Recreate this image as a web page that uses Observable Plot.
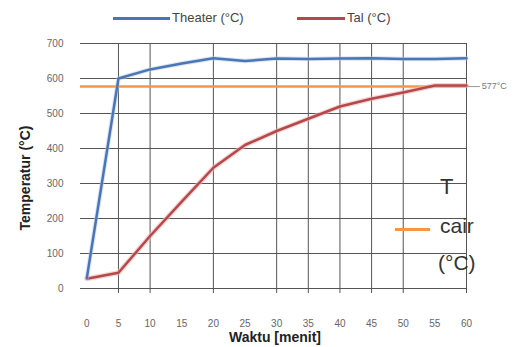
<!DOCTYPE html>
<html>
<head>
<meta charset="utf-8">
<script src="https://cdn.jsdelivr.net/npm/d3@7"></script>
<script src="https://cdn.jsdelivr.net/npm/@observablehq/plot@0.6"></script>
<style>
  body { margin: 0; background: #fff; font-family: "Liberation Sans", Arial, sans-serif; }
  #wrap { position: relative; width: 520px; height: 347px; }
  #wrap svg { position: absolute; left: 0; top: 0; }
  .lab { position: absolute; color: #333; white-space: nowrap; line-height: 1; }
  .key { position: absolute; height: 3px; }
</style>
</head>
<body>
<div id="wrap"></div>
<script>
// Heating time (minutes) and measured temperatures
const minutes = [0, 5, 10, 15, 20, 25, 30, 35, 40, 45, 50, 55, 60];
const theater = [30, 600, 626, 643, 658, 650, 657, 656, 657, 658, 656, 656, 658];
const tal     = [28, 45, 150, 248, 345, 410, 450, 485, 520, 542, 560, 580, 580];
const tCair = 577;                       // melting temperature (°C)
const yTicks = [0, 100, 200, 300, 400, 500, 600, 700];
const xGrid = [5, 10, 20, 30, 35, 40, 45, 50, 60];

const blue = "#4a76b8", red = "#b5484a", orange = "#f79646";
const heater = minutes.map((m, i) => ({m, t: theater[i]}));
const alum = minutes.map((m, i) => ({m, t: tal[i]}));

const chart = Plot.plot({
  width: 520, height: 347,
  marginLeft: 80, marginRight: 54, marginTop: 43, marginBottom: 59,
  style: {fontFamily: "Liberation Sans, Arial, sans-serif", fontSize: "10px", color: "#666", background: "transparent"},
  x: {domain: [-1, 60], label: null},
  y: {domain: [0, 700], label: null},
  marks: [
    Plot.gridY(yTicks, {stroke: "#555", strokeOpacity: 1, strokeWidth: 1}),
    Plot.gridX(xGrid, {stroke: "#555", strokeOpacity: 1, strokeWidth: 1}),
    Plot.axisX(xGrid, {tickSize: 5, tickFormat: () => "", stroke: "#555", label: null}),
    Plot.axisX(minutes, {tickSize: 0, tickPadding: 31, fill: "#666", fontSize: 10, label: null}),
    Plot.axisY(yTicks, {tickSize: 0, tickPadding: 17, fill: "#666", fontSize: 10, label: null}),
    Plot.ruleY([tCair], {stroke: orange, strokeWidth: 2.5}),
    Plot.ruleY([tCair], {x1: 60, x2: 62.2, stroke: "#999", strokeWidth: 1, clip: false}),
    Plot.text([tCair], {y: d => d, x: 62.4, text: d => `${d}°C`, textAnchor: "start", fontSize: 9, fill: "#777"}),
    Plot.line(alum, {x: "m", y: "t", stroke: "#f2b8b8", strokeWidth: 5, strokeOpacity: 0.6}),
    Plot.line(alum, {x: "m", y: "t", stroke: red, strokeWidth: 2.5}),
    Plot.line(heater, {x: "m", y: "t", stroke: "#b9cbe6", strokeWidth: 4.5, strokeOpacity: 0.5}),
    Plot.line(heater, {x: "m", y: "t", stroke: blue, strokeWidth: 2.5})
  ]
});

const wrap = document.getElementById("wrap");
wrap.appendChild(chart);

function label(text, css) {
  const d = document.createElement("div");
  d.className = "lab";
  d.textContent = text;
  Object.assign(d.style, css);
  wrap.appendChild(d);
  return d;
}
function key(color, left, top, width) {
  const d = document.createElement("div");
  d.className = "key";
  Object.assign(d.style, {background: color, left: left + "px", top: top + "px", width: width + "px"});
  wrap.appendChild(d);
}

// legend above the plot
key(blue, 113, 17, 57);
label("Theater (°C)", {left: "172px", top: "11px", fontSize: "13px", color: "#444"});
key(red, 297, 17, 48);
label("Tal (°C)", {left: "347px", top: "11px", fontSize: "13px", color: "#444"});

// legend entry for the melting line
key(orange, 395, 228, 35);
label("T", {left: "440px", top: "176px", fontSize: "22px"});
label("cair", {left: "440px", top: "215px", fontSize: "21px"});
label("(°C)", {left: "438px", top: "252px", fontSize: "21px"});

// axis titles
label("Waktu [menit]", {left: "0px", width: "550px", textAlign: "center", top: "330px", fontSize: "14px", fontWeight: "bold", color: "#222"});
const yl = label("Temperatur (°C)", {left: "25px", top: "178px", fontSize: "14px", fontWeight: "bold", color: "#222"});
yl.style.transform = "translate(-50%, -50%) rotate(-90deg)";
</script>
</body>
</html>
